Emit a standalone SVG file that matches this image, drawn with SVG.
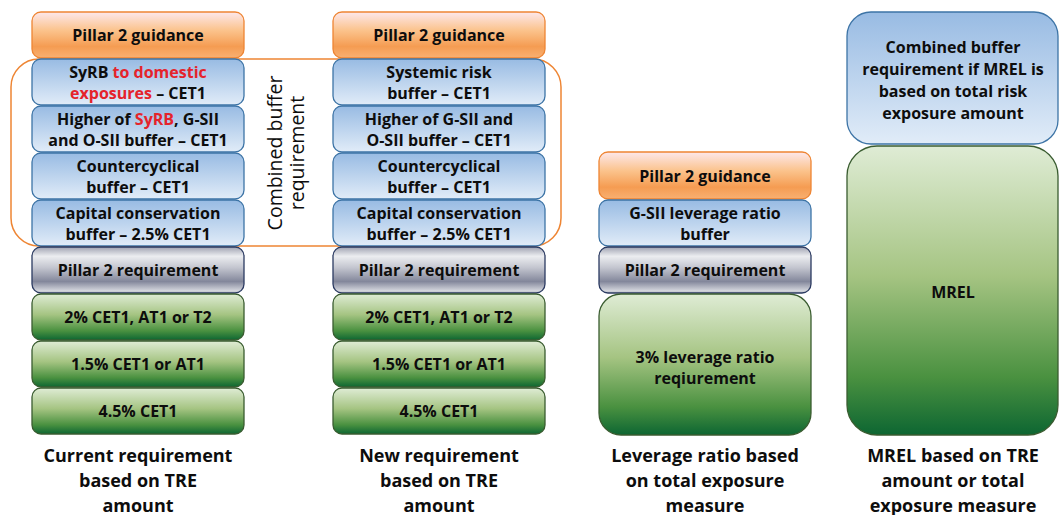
<svg xmlns="http://www.w3.org/2000/svg" width="1061" height="515" viewBox="0 0 1061 515">
  <defs>
    <linearGradient id="gOrange" x1="0" y1="0" x2="0" y2="1">
      <stop offset="0" stop-color="#fde8ec"/>
      <stop offset="0.4" stop-color="#fbc38c"/>
      <stop offset="0.75" stop-color="#f59c52"/>
      <stop offset="1" stop-color="#f8b072"/>
    </linearGradient>
    <linearGradient id="gBlue" x1="0" y1="0" x2="0" y2="1">
      <stop offset="0" stop-color="#98bbe3"/>
      <stop offset="1" stop-color="#e1ecf8"/>
    </linearGradient>
    <linearGradient id="gGrey" x1="0" y1="0" x2="0" y2="1">
      <stop offset="0" stop-color="#9fa2b1"/>
      <stop offset="0.2" stop-color="#ecedf0"/>
      <stop offset="0.45" stop-color="#c3c5cf"/>
      <stop offset="0.75" stop-color="#83879b"/>
      <stop offset="0.95" stop-color="#d3d5dc"/>
      <stop offset="1" stop-color="#b9bcc6"/>
    </linearGradient>
    <linearGradient id="gGreen" x1="0" y1="0" x2="0" y2="1">
      <stop offset="0" stop-color="#dfecd5"/>
      <stop offset="0.45" stop-color="#a5c482"/>
      <stop offset="0.8" stop-color="#4a9140"/>
      <stop offset="1" stop-color="#0d6632"/>
    </linearGradient>
    <style>
      .orange { fill: url(#gOrange); stroke: #ee8533; stroke-width: 1.3; }
      .blue { fill: url(#gBlue); stroke: #3d74a6; stroke-width: 1.3; }
      .grey { fill: url(#gGrey); stroke: #2c3b62; stroke-width: 1.3; }
      .green { fill: url(#gGreen); stroke: #3a5c30; stroke-width: 1.3; }
      .bracket { fill: none; stroke: #ee8533; stroke-width: 1.5; }
      text { font-family: "Open Sans", "Noto Sans", sans-serif; font-weight: 700; fill: #0d0d0d; text-anchor: middle; }
      .box { font-size: 16px; }
      .cap { font-size: 18px; }
      .rot { font-size: 19.5px; font-weight: 400; }
      .red { fill: #e5232b; }
    </style>
  </defs>

  <!-- outline grouping the four buffer layers of the first two stacks -->
  <g id="combined-buffer">
    <rect class="bracket" x="11" y="59" width="550" height="187" rx="28" ry="28"/>
    <text class="rot" transform="translate(282,153) rotate(-90)" x="0" y="0">Combined buffer</text>
    <text class="rot" transform="translate(304,153) rotate(-90)" x="0" y="0">requirement</text>
  </g>

  <!-- stack 1: current requirement -->
  <g id="current">
    <g id="c-p2g"><rect class="orange" x="32" y="12" width="212" height="46" rx="9"/>
      <text class="box" x="138" y="41">Pillar 2 guidance</text></g>
    <g id="c-syrb"><rect class="blue" x="32" y="59" width="212" height="46" rx="9"/>
      <text class="box" x="138" y="78">SyRB <tspan class="red">to domestic</tspan></text>
      <text class="box" x="138" y="99"><tspan class="red">exposures</tspan> – CET1</text></g>
    <g id="c-sii"><rect class="blue" x="32" y="106" width="212" height="46" rx="9"/>
      <text class="box" x="138" y="125">Higher of <tspan class="red">SyRB</tspan>, G-SII</text>
      <text class="box" x="138" y="146">and O-SII buffer – CET1</text></g>
    <g id="c-ccb"><rect class="blue" x="32" y="153" width="212" height="46" rx="9"/>
      <text class="box" x="138" y="172">Countercyclical</text>
      <text class="box" x="138" y="193">buffer – CET1</text></g>
    <g id="c-conserv"><rect class="blue" x="32" y="200" width="212" height="46" rx="9"/>
      <text class="box" x="138" y="219">Capital conservation</text>
      <text class="box" x="138" y="240">buffer – 2.5% CET1</text></g>
    <g id="c-p2r"><rect class="grey" x="32" y="247" width="212" height="46" rx="9"/>
      <text class="box" x="138" y="276">Pillar 2 requirement</text></g>
    <g id="c-t2"><rect class="green" x="32" y="294" width="212" height="46" rx="9"/>
      <text class="box" x="138" y="323">2% CET1, AT1 or T2</text></g>
    <g id="c-at1"><rect class="green" x="32" y="341" width="212" height="46" rx="9"/>
      <text class="box" x="138" y="370">1.5% CET1 or AT1</text></g>
    <g id="c-cet1"><rect class="green" x="32" y="388" width="212" height="46" rx="9"/>
      <text class="box" x="138" y="417">4.5% CET1</text></g>
    <text class="cap" x="138" y="462">Current requirement</text>
    <text class="cap" x="138" y="487">based on TRE</text>
    <text class="cap" x="138" y="512">amount</text>
  </g>

  <!-- stack 2: new requirement -->
  <g id="new">
    <g id="n-p2g"><rect class="orange" x="333" y="12" width="212" height="46" rx="9"/>
      <text class="box" x="439" y="41">Pillar 2 guidance</text></g>
    <g id="n-srb"><rect class="blue" x="333" y="59" width="212" height="46" rx="9"/>
      <text class="box" x="439" y="78">Systemic risk</text>
      <text class="box" x="439" y="99">buffer – CET1</text></g>
    <g id="n-sii"><rect class="blue" x="333" y="106" width="212" height="46" rx="9"/>
      <text class="box" x="439" y="125">Higher of G-SII and</text>
      <text class="box" x="439" y="146">O-SII buffer – CET1</text></g>
    <g id="n-ccb"><rect class="blue" x="333" y="153" width="212" height="46" rx="9"/>
      <text class="box" x="439" y="172">Countercyclical</text>
      <text class="box" x="439" y="193">buffer – CET1</text></g>
    <g id="n-conserv"><rect class="blue" x="333" y="200" width="212" height="46" rx="9"/>
      <text class="box" x="439" y="219">Capital conservation</text>
      <text class="box" x="439" y="240">buffer – 2.5% CET1</text></g>
    <g id="n-p2r"><rect class="grey" x="333" y="247" width="212" height="46" rx="9"/>
      <text class="box" x="439" y="276">Pillar 2 requirement</text></g>
    <g id="n-t2"><rect class="green" x="333" y="294" width="212" height="46" rx="9"/>
      <text class="box" x="439" y="323">2% CET1, AT1 or T2</text></g>
    <g id="n-at1"><rect class="green" x="333" y="341" width="212" height="46" rx="9"/>
      <text class="box" x="439" y="370">1.5% CET1 or AT1</text></g>
    <g id="n-cet1"><rect class="green" x="333" y="388" width="212" height="46" rx="9"/>
      <text class="box" x="439" y="417">4.5% CET1</text></g>
    <text class="cap" x="439" y="462">New requirement</text>
    <text class="cap" x="439" y="487">based on TRE</text>
    <text class="cap" x="439" y="512">amount</text>
  </g>

  <!-- stack 3: leverage ratio -->
  <g id="leverage">
    <g id="l-p2g"><rect class="orange" x="599" y="152" width="212" height="47" rx="9"/>
      <text class="box" x="705" y="182">Pillar 2 guidance</text></g>
    <g id="l-gsii"><rect class="blue" x="599" y="200" width="212" height="46" rx="9"/>
      <text class="box" x="705" y="219">G-SII leverage ratio</text>
      <text class="box" x="705" y="240">buffer</text></g>
    <g id="l-p2r"><rect class="grey" x="599" y="247" width="212" height="46" rx="9"/>
      <text class="box" x="705" y="276">Pillar 2 requirement</text></g>
    <g id="l-min"><rect class="green" x="599" y="294" width="212" height="141" rx="22"/>
      <text class="box" x="705" y="363">3% leverage ratio</text>
      <text class="box" x="705" y="384">reqiurement</text></g>
    <text class="cap" x="705" y="462">Leverage ratio based</text>
    <text class="cap" x="705" y="487">on total exposure</text>
    <text class="cap" x="705" y="512">measure</text>
  </g>

  <!-- stack 4: MREL -->
  <g id="mrel">
    <g id="m-cbr"><rect class="blue" x="847" y="12" width="211" height="132" rx="24"/>
      <text class="box" x="953" y="53">Combined buffer</text>
      <text class="box" x="953" y="75">requirement if MREL is</text>
      <text class="box" x="953" y="97">based on total risk</text>
      <text class="box" x="953" y="119">exposure amount</text></g>
    <g id="m-mrel"><rect class="green" x="847" y="146" width="211" height="289" rx="30"/>
      <text class="box" x="953" y="298">MREL</text></g>
    <text class="cap" x="953" y="462">MREL based on TRE</text>
    <text class="cap" x="953" y="487">amount or total</text>
    <text class="cap" x="953" y="512">exposure measure</text>
  </g>
</svg>
